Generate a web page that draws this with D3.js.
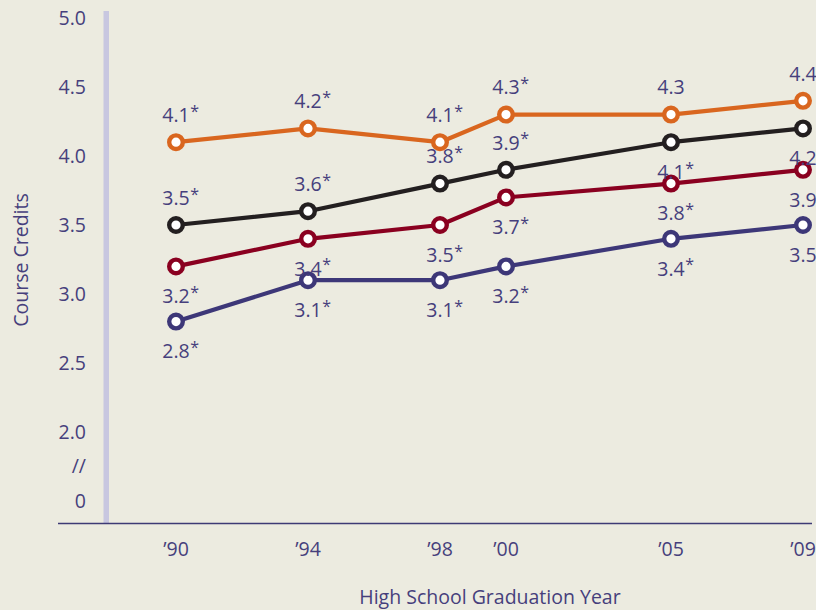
<!DOCTYPE html>
<html><head><meta charset="utf-8">
<script src="https://cdn.jsdelivr.net/npm/d3@7/dist/d3.min.js"></script>
<style>
html,body{margin:0;padding:0;background:#ecebe0;}
svg{display:block;font-family:"Open Sans",sans-serif;}
</style></head>
<body>
<script>
const years = [1990, 1994, 1998, 2000, 2005, 2009];
const yearLabels = ["’90","’94","’98","’00","’05","’09"];
const seriesOrange = [4.1, 4.2, 4.1, 4.3, 4.3, 4.4];
const seriesBlack  = [3.5, 3.6, 3.8, 3.9, 4.1, 4.2];
const seriesRed    = [3.2, 3.4, 3.5, 3.7, 3.8, 3.9];
const seriesBlue   = [2.8, 3.1, 3.1, 3.2, 3.4, 3.5];
const sigOrange = [true, true, true, true, false, false];
const sigBlack  = [true, true, true, true, true, false];
const sigRed    = [true, true, true, true, true, false];
const sigBlue   = [true, true, true, true, true, false];
const yTickValues = [5.0, 4.5, 4.0, 3.5, 3.0, 2.5, 2.0];
const yBreakLabels = ["//", "0"];

const W = 816, H = 610;
const FS = 19.5;
const svg = d3.select("body").append("svg").attr("width", W).attr("height", H);
svg.append("rect").attr("width", W).attr("height", H).attr("fill", "#ecebe0");

const x = d3.scaleLinear().domain([1990, 2009]).range([176, 803]);
const y = d3.scaleLinear().domain([2.0, 5.0]).range([432, 18]);
const step = y(2.0) - y(2.5);
const textColor = "#463f7c";

// vertical bar
svg.append("rect").attr("x", 103.5).attr("y", 11).attr("width", 5.5).attr("height", 512).attr("fill", "#c8c7e0");
// baseline
svg.append("line").attr("x1", 58).attr("x2", 812).attr("y1", 523.5).attr("y2", 523.5)
  .attr("stroke", "#3d3a75").attr("stroke-width", 1.5);

// y ticks
const yTicks = yTickValues.map(v => ({label: d3.format(".1f")(v), pos: y(v)}));
yBreakLabels.forEach((l, i) => yTicks.push({label: l, pos: y(2.0) + step * (i + 1) / 2}));
svg.append("g").selectAll("text").data(yTicks).join("text")
  .attr("x", 86).attr("y", d => d.pos).attr("dy", "0.35em")
  .attr("text-anchor", "end").attr("font-size", FS).attr("fill", textColor)
  .text(d => d.label);

// x ticks
svg.append("g").selectAll("text").data(years).join("text")
  .attr("x", d => x(d)).attr("y", 549).attr("dy", "0.35em")
  .attr("text-anchor", "middle").attr("font-size", FS).attr("fill", textColor)
  .text((d, i) => yearLabels[i]);

// axis titles
svg.append("text").attr("x", 490).attr("y", 597).attr("dy", "0.35em")
  .attr("text-anchor", "middle").attr("font-size", FS).attr("fill", textColor)
  .text("High School Graduation Year");
svg.append("text").attr("transform", "translate(21,260) rotate(-90)").attr("dy", "0.35em")
  .attr("text-anchor", "middle").attr("font-size", FS).attr("fill", textColor)
  .text("Course Credits");

const series = [
  {vals: seriesBlue, sig: sigBlue, color: "#3d3778", pos: ["b","b","b","b","b","b"]},
  {vals: seriesRed, sig: sigRed, color: "#8a0020", pos: ["b","b","b","b","b","b"]},
  {vals: seriesBlack, sig: sigBlack, color: "#231f20", pos: ["a","a","a","a","b","b"]},
  {vals: seriesOrange, sig: sigOrange, color: "#d9661f", pos: ["a","a","a","a","a","a"]}
];

const line = d3.line().x(d => x(d.year)).y(d => y(d.v));
series.forEach(s => {
  const pts = s.vals.map((v, i) => ({year: years[i], v, sig: s.sig[i], pos: s.pos[i]}));
  svg.append("path").datum(pts).attr("d", line).attr("fill", "none")
    .attr("stroke", s.color).attr("stroke-width", 4.2).attr("stroke-linejoin", "round");
  svg.append("g").selectAll("circle").data(pts).join("circle")
    .attr("cx", d => x(d.year)).attr("cy", d => y(d.v)).attr("r", 6.8)
    .attr("fill", "#fff").attr("stroke", s.color).attr("stroke-width", 4.4);
  pts.forEach(d => {
    const ly = y(d.v) + (d.pos === "a" ? -27 : 30);
    const t = svg.append("text").attr("x", x(d.year)).attr("y", ly).attr("dy", "0.35em")
      .attr("text-anchor", "middle").attr("font-size", FS).attr("fill", textColor)
      .text(d3.format(".1f")(d.v));
    if (d.sig) {
      const w = t.node().getComputedTextLength();
      svg.append("text").attr("x", x(d.year) + w / 2 + 0.5).attr("y", ly - 4).attr("dy", "0.35em")
        .attr("font-size", 16).attr("fill", textColor).text("*");
    }
  });
});
</script>
</body></html>
